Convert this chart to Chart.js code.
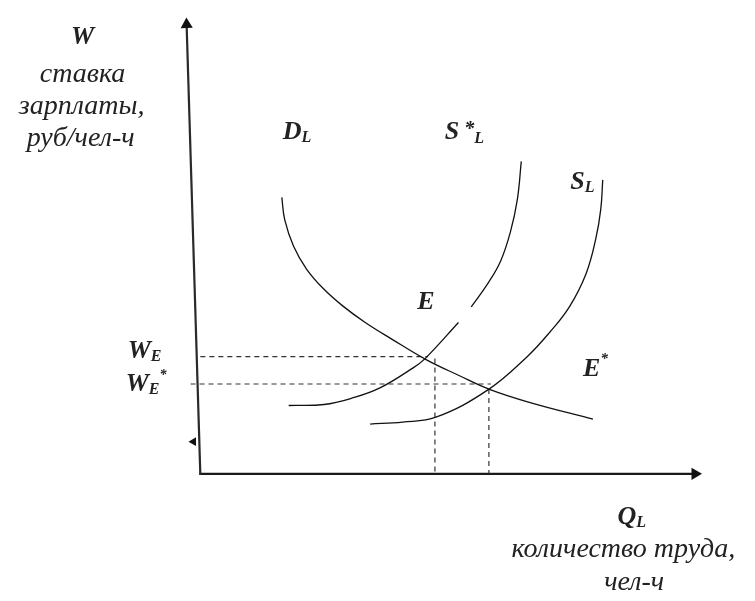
<!DOCTYPE html>
<html>
<head>
<meta charset="utf-8">
<script src="https://cdn.jsdelivr.net/npm/chart.js@4"></script>
<style>
  html, body { margin: 0; padding: 0; background: #fff; }
  #labour { display: block; }
</style>
</head>
<body>
<canvas id="labour" width="755" height="601"></canvas>
<script>
// кривая спроса на труд D_L (Q, W)
const demandQ = [1.66, 1.72, 1.90, 2.16, 2.50, 2.90, 3.36, 3.90, 4.60, 5.26, 5.92, 6.72, 8.00];
const demandW = [5.66, 5.20, 4.66, 4.20, 3.80, 3.44, 3.10, 2.76, 2.34, 2.02, 1.72, 1.46, 1.12];

// новое предложение S*_L (разрыв возле подписи E)
const supplyStarQ = [1.80, 2.52, 3.12, 3.66, 4.32, 4.58, 5.26, 5.39, 5.52, 5.86, 6.12, 6.32, 6.46, 6.54];
const supplyStarW = [1.40, 1.42, 1.56, 1.76, 2.16, 2.36, 3.10, null, 3.42, 3.90, 4.36, 4.96, 5.62, 6.40];

// исходное предложение S_L
const supplyQ = [3.46, 4.12, 4.80, 5.86, 6.66, 7.12, 7.52, 7.86, 8.06, 8.16, 8.20];
const supplyW = [1.02, 1.06, 1.16, 1.72, 2.40, 2.90, 3.42, 4.10, 4.82, 5.42, 6.02];

// равновесные уровни
const wageE = 2.40, qtyE = 4.78;
const wageEstar = 1.84, qtyEstar = 5.88;

const axisTopQ = -0.28, axisTopW = 9.2;
const axisEndQ = 10.08;

function pairs(qs, ws) {
  return qs.map((q, i) => ({ x: q, y: ws[i] }));
}

const curveStyle = {
  borderColor: '#111',
  borderWidth: 1.3,
  pointRadius: 0,
  showLine: true,
  tension: 0.4,
  spanGaps: false
};
const dashStyle = {
  borderColor: '#333',
  borderWidth: 1.2,
  borderDash: [5, 4],
  pointRadius: 0,
  showLine: true
};

// подписи, рисуются поверх графика
const labelPlugin = {
  id: 'labels',
  afterDatasetsDraw(chart) {
    const ctx = chart.ctx;
    const xs = chart.scales.x, ys = chart.scales.y;
    const px = v => xs.getPixelForValue(v);
    const py = v => ys.getPixelForValue(v);
    const serif = "'Liberation Serif', 'DejaVu Serif', serif";
    ctx.save();
    ctx.fillStyle = '#222';
    ctx.textBaseline = 'middle';

    // центрированные строки
    const lines = [
      ['W', -2.4, 8.94, 'italic bold 26px'],
      ['ставка', -2.4, 8.18, 'italic 28px'],
      ['зарплаты,', -2.42, 7.52, 'italic 28px'],
      ['руб/чел-ч', -2.44, 6.86, 'italic 28px'],
      ['количество труда,', 8.62, -1.56, 'italic 28px'],
      ['чел-ч', 8.84, -2.22, 'italic 28px']
    ];
    ctx.textAlign = 'center';
    lines.forEach(([t, q, w, f]) => {
      ctx.font = f + ' ' + serif;
      ctx.fillText(t, px(q), py(w));
    });

    // составные подписи с индексами
    const composite = [
      [1.68, 7.0, [['D', 26, 0], ['L', 16, 6]]],
      [4.98, 7.0, [['S', 26, 0], [' *', 20, -2], ['L', 16, 7]]],
      [7.54, 5.98, [['S', 26, 0], ['L', 16, 6]]],
      [4.42, 3.52, [['E', 26, 0]]],
      [7.8, 2.14, [['E', 26, 0], ['*', 15, -10]]],
      [-1.48, 2.52, [['W', 26, 0], ['E', 16, 6]]],
      [-1.52, 1.84, [['W', 26, 0], ['E', 16, 6], ['*', 14, -9]]],
      [8.5, -0.88, [['Q', 26, 0], ['L', 16, 6]]]
    ];
    ctx.textAlign = 'left';
    composite.forEach(([q, w, parts]) => {
      let x = px(q);
      const y = py(w);
      parts.forEach(([t, size, dy]) => {
        ctx.font = 'italic bold ' + size + 'px ' + serif;
        ctx.fillText(t, x, y + dy);
        x += ctx.measureText(t).width;
      });
    });
    ctx.restore();
  }
};

new Chart(document.getElementById('labour'), {
  type: 'scatter',
  data: {
    datasets: [
      Object.assign({ data: pairs(demandQ, demandW) }, curveStyle),
      Object.assign({ data: pairs(supplyStarQ, supplyStarW) }, curveStyle),
      Object.assign({ data: pairs(supplyQ, supplyW) }, curveStyle),
      Object.assign({ data: [{ x: 0, y: wageE }, { x: qtyE - 0.14, y: wageE }] }, dashStyle),
      Object.assign({ data: [{ x: qtyE, y: wageE - 0.04 }, { x: qtyE, y: 0 }] }, dashStyle),
      Object.assign({ data: [{ x: -0.2, y: wageEstar }, { x: qtyEstar + 0.04, y: wageEstar }] }, dashStyle),
      Object.assign({ data: [{ x: qtyEstar, y: wageEstar - 0.1 }, { x: qtyEstar, y: 0 }] }, dashStyle),
      {
        data: [{ x: 0, y: -0.02 }, { x: axisTopQ, y: axisTopW }],
        borderColor: '#2a2a2a', borderWidth: 2.2, showLine: true,
        pointStyle: 'triangle', pointRadius: [0, 7], pointRotation: -2,
        pointBackgroundColor: '#111', pointBorderColor: '#111', pointBorderWidth: 0
      },
      {
        data: [{ x: -0.02, y: 0 }, { x: axisEndQ, y: 0 }],
        borderColor: '#1a1a1a', borderWidth: 2.2, showLine: true,
        pointStyle: 'triangle', pointRadius: [0, 7], pointRotation: 90,
        pointBackgroundColor: '#111', pointBorderColor: '#111', pointBorderWidth: 0
      },
      {
        data: [{ x: -0.14, y: 0.66 }],
        pointStyle: 'triangle', pointRadius: 5, pointRotation: -90,
        pointBackgroundColor: '#111', pointBorderColor: '#111', pointBorderWidth: 0
      }
    ]
  },
  options: {
    responsive: false,
    animation: false,
    devicePixelRatio: 1,
    layout: { padding: 0 },
    plugins: { legend: { display: false }, tooltip: { enabled: false } },
    scales: {
      x: { type: 'linear', min: -3.94, max: 11.16, display: false },
      y: { type: 'linear', min: -2.46, max: 9.56, display: false }
    }
  },
  plugins: [labelPlugin]
});
</script>
</body>
</html>
